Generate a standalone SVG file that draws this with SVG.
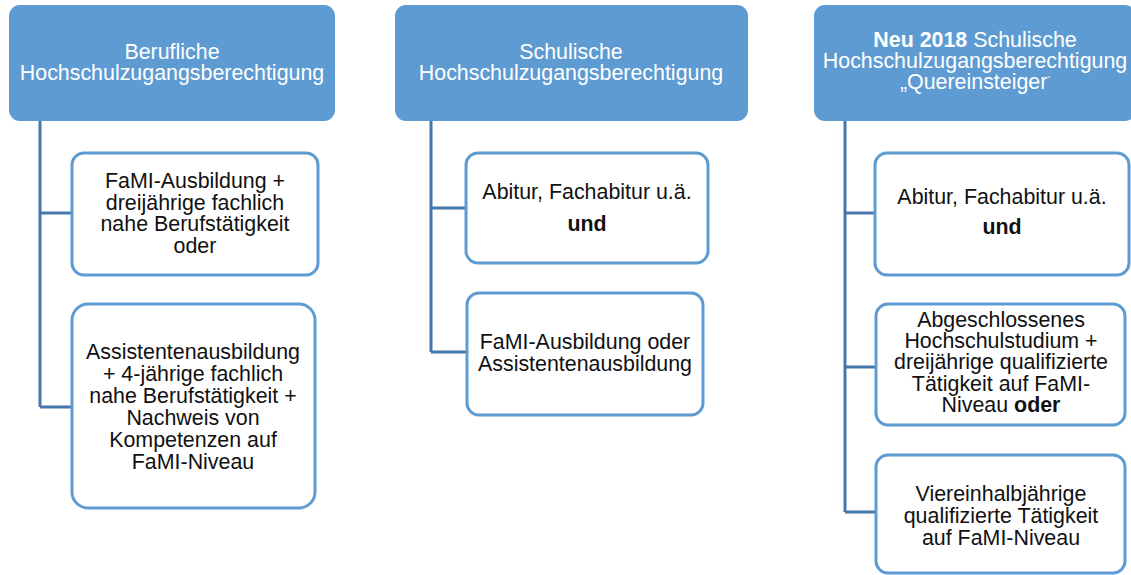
<svg xmlns="http://www.w3.org/2000/svg" width="1131" height="575" viewBox="0 0 1131 575">
<style>
.hdr{fill:#5e9bd2;}
.box{fill:#fff;stroke:#5e9bd2;stroke-width:3;}
.conn{fill:none;stroke:#4677ab;stroke-width:3;}
text{font-family:"Liberation Sans",Arial,sans-serif;font-size:21.4px;text-anchor:middle;}
.ht{fill:#fff;}
.bt{fill:#111;}
.b{font-weight:bold;}
</style>
<rect width="1131" height="575" fill="#fff"/>
<g id="connectors">
<path class="conn" d="M40,121 V407 M40,213 H72 M40,407 H72"/>
<path class="conn" d="M431,121 V352 M431,208 H466 M431,352 H467"/>
<path class="conn" d="M845,121 V512 M845,213 H875 M845,367 H876 M845,512 H876"/>
</g>
<g id="h1">
<rect class="hdr" x="9" y="5" width="326" height="116" rx="11"/>
<text class="ht" x="172" y="59">Berufliche<tspan x="172" dy="21">Hochschulzugangsberechtigung</tspan></text>
</g>
<g id="h2">
<rect class="hdr" x="395" y="5" width="353" height="116" rx="11"/>
<text class="ht" x="571" y="59">Schulische<tspan x="571" dy="21">Hochschulzugangsberechtigung</tspan></text>
</g>
<g id="h3">
<rect class="hdr" x="814" y="5" width="322" height="116" rx="11"/>
<text class="ht" x="975" y="47"><tspan class="b">Neu 2018</tspan> Schulische<tspan x="975" dy="21">Hochschulzugangsberechtigung</tspan><tspan x="975" dy="21">„Quereinsteiger</tspan><tspan font-size="8" dy="-8">“</tspan></text>
</g>
<g id="b11">
<rect class="box" x="72" y="153" width="246" height="122" rx="12"/>
<text class="bt" x="195" y="188">FaMI-Ausbildung +<tspan x="195" dy="22">dreijährige fachlich</tspan><tspan x="195" dy="21">nahe Berufstätigkeit</tspan><tspan x="195" dy="22">oder</tspan></text>
</g>
<g id="b12">
<rect class="box" x="72" y="304" width="243" height="204" rx="16"/>
<text class="bt" x="193" y="359">Assistentenausbildung<tspan x="193" dy="22">+ 4-jährige fachlich</tspan><tspan x="193" dy="22">nahe Berufstätigkeit +</tspan><tspan x="193" dy="22">Nachweis von</tspan><tspan x="193" dy="22">Kompetenzen auf</tspan><tspan x="193" dy="22">FaMI-Niveau</tspan></text>
</g>
<g id="b21">
<rect class="box" x="466" y="153" width="242" height="110" rx="12"/>
<text class="bt" x="587" y="199">Abitur, Fachabitur u.ä.<tspan x="587" dy="32" class="b">und</tspan></text>
</g>
<g id="b22">
<rect class="box" x="467" y="293" width="236" height="122" rx="12"/>
<text class="bt" x="585" y="349">FaMI-Ausbildung oder<tspan x="585" dy="22">Assistentenausbildung</tspan></text>
</g>
<g id="b31">
<rect class="box" x="875" y="153" width="254" height="122" rx="12"/>
<text class="bt" x="1002" y="204">Abitur, Fachabitur u.ä.<tspan x="1002" dy="30" class="b">und</tspan></text>
</g>
<g id="b32">
<rect class="box" x="876" y="304" width="249" height="121" rx="12"/>
<text class="bt" x="1001" y="327">Abgeschlossenes<tspan x="1001" dy="21">Hochschulstudium +</tspan><tspan x="1001" dy="21">dreijährige qualifizierte</tspan><tspan x="1001" dy="22">Tätigkeit auf FaMI-</tspan><tspan x="1001" dy="21">Niveau <tspan class="b">oder</tspan></tspan></text>
</g>
<g id="b33">
<rect class="box" x="876" y="455" width="249" height="118" rx="12"/>
<text class="bt" x="1001" y="501">Viereinhalbjährige<tspan x="1001" dy="22">qualifizierte Tätigkeit</tspan><tspan x="1001" dy="22">auf FaMI-Niveau</tspan></text>
</g>
</svg>
